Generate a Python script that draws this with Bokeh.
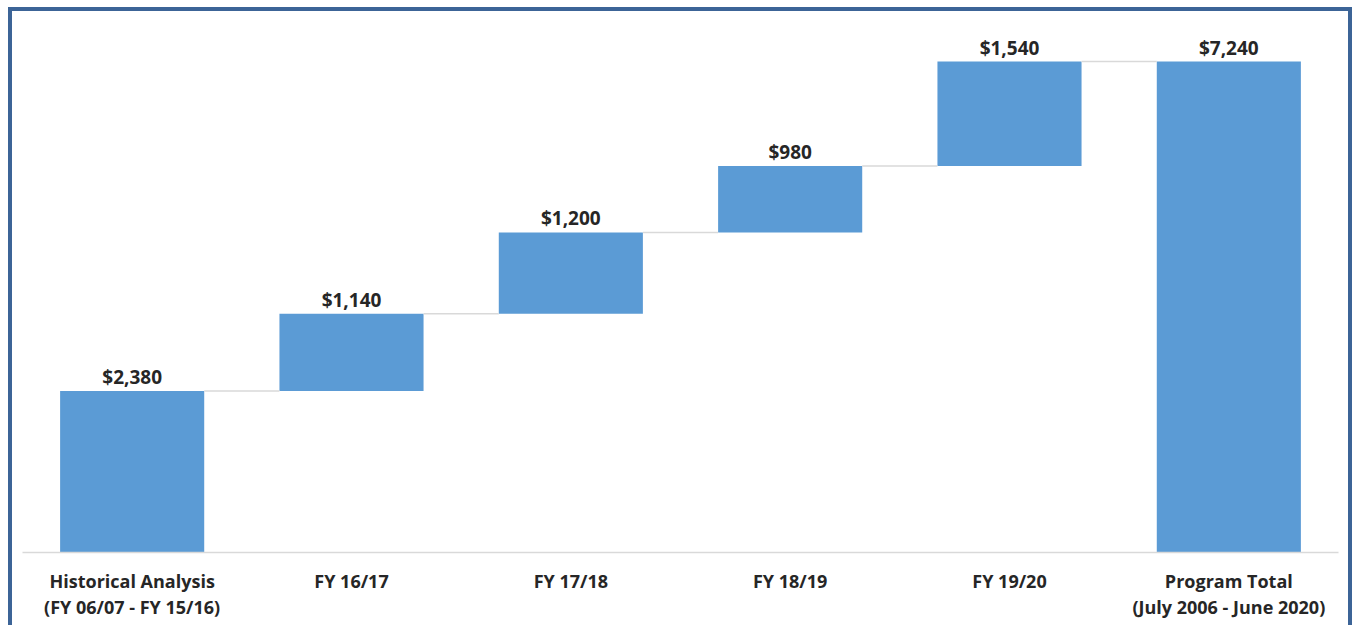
import numpy as np
from bokeh.plotting import figure
from bokeh.models import ColumnDataSource, FixedTicker
from bokeh.core.properties import value
from bokeh.embed import file_html
from bokeh.resources import INLINE

categories = ["Historical Analysis\n(FY 06/07 - FY 15/16)", "FY 16/17", "FY 17/18",
              "FY 18/19", "FY 19/20", "Program Total\n(July 2006 - June 2020)"]
increments = [2380, 1140, 1200, 980, 1540]
total = 7240
labels = ["$2,380", "$1,140", "$1,200", "$980", "$1,540", "$7,240"]

n = len(categories)
xs = np.arange(n) + 0.5
tops_inc = np.cumsum(increments)
bottoms = list(tops_inc - np.array(increments)) + [0]
tops = list(tops_inc) + [total]

FONT = "Open Sans"
TXT = "#262626"
BAR = "#5B9BD5"
EDGE = "#3C6497"
W = 0.657

p = figure(width=1336, height=614, x_range=(0, n), y_range=(0, 7845),
           output_backend="svg", toolbar_location=None,
           min_border_left=10, min_border_right=10, min_border_top=9, min_border_bottom=73)
p.styles = {
    "margin-left": "12px",
    "margin-top": "11px",
    "box-shadow": (f"-4px -4px 0 0 {EDGE}, 4px -4px 0 0 {EDGE}, "
                   f"-4px 0 0 0 {EDGE}, 4px 0 0 0 {EDGE}"),
}
p.outline_line_color = None
p.xgrid.visible = False
p.ygrid.visible = False
p.yaxis.visible = False
p.background_fill_color = "white"
p.border_fill_color = "white"

src = ColumnDataSource(dict(x=xs, bottom=bottoms, top=tops, label=labels))
p.vbar(x="x", bottom="bottom", top="top", width=W, source=src,
       fill_color=BAR, line_color=None)

# connectors
cx0 = xs[:-1] + W / 2
cx1 = xs[1:] - W / 2
cy = np.array(tops[:-1])
p.segment(x0=cx0, y0=cy, x1=cx1, y1=cy, line_color="#D9D9D9", line_width=1.5)

p.text(x="x", y="top", text="label", source=src, text_align="center",
       text_baseline="bottom", y_offset=-1, text_font=value(FONT),
       text_font_style="bold", text_font_size="19px", text_color=TXT)

ax = p.xaxis[0]
ax.ticker = FixedTicker(ticks=list(xs))
ax.major_label_overrides = {float(x): c for x, c in zip(xs, categories)}
ax.major_tick_line_color = None
ax.minor_tick_line_color = None
ax.axis_line_color = "#D9D9D9"
ax.axis_line_width = 1.5
ax.major_label_text_font = FONT
ax.major_label_text_font_style = "bold"
ax.major_label_text_font_size = "18px"
ax.major_label_text_line_height = 1.1
ax.major_label_text_color = TXT
ax.major_label_standoff = 10

open("out.html", "w").write(file_html(p, INLINE))
